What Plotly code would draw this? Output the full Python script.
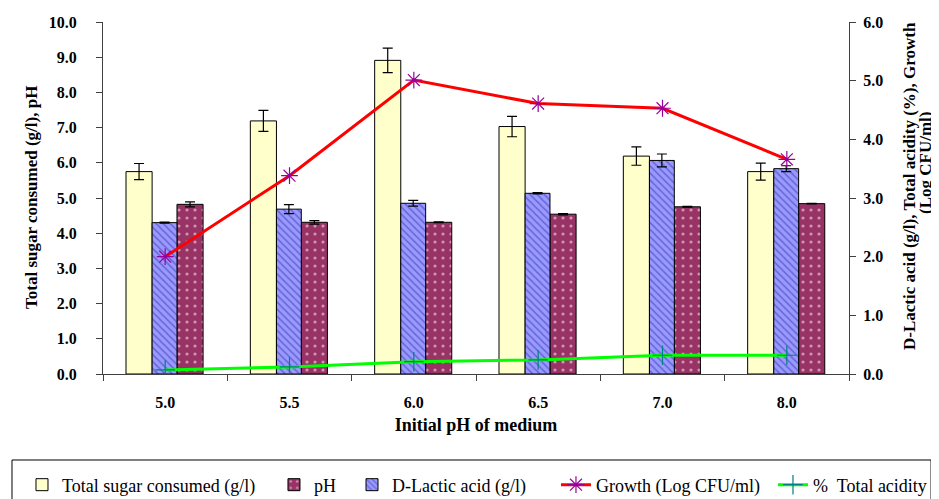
import plotly.graph_objects as go

categories = ["5.0", "5.5", "6.0", "6.5", "7.0", "8.0"]
sugar = [5.75, 7.19, 8.91, 7.03, 6.19, 5.75]
sugar_err = [0.23, 0.30, 0.35, 0.29, 0.26, 0.24]
lactic = [2.58, 2.81, 2.91, 3.08, 3.64, 3.50]
lactic_err = [0.01, 0.077, 0.05, 0.01, 0.11, 0.05]
ph = [4.82, 4.31, 4.31, 4.54, 4.75, 4.84]
ph_err = [0.07, 0.05, 0.01, 0.02, 0.01, 0.01]
growth = [2.00, 3.38, 5.01, 4.61, 4.53, 3.66]
acidity = [0.07, 0.12, 0.21, 0.24, 0.32, 0.32]

FONT = "Liberation Serif"
err_style = dict(type="data", thickness=1.2, width=5, color="#000000")

fig = go.Figure()
fig.add_trace(go.Bar(
    x=categories, y=sugar, name="Total sugar consumed (g/l)", yaxis="y",
    width=0.21, offset=-0.315, legend="legend",
    marker=dict(color="#ffffcc", line=dict(color="#000000", width=1)),
    error_y=dict(array=sugar_err, **err_style)))
fig.add_trace(go.Bar(
    x=categories, y=lactic, name="D-Lactic acid (g/l)", yaxis="y2",
    width=0.2, offset=-0.105, legend="legend3",
    marker=dict(color="#9999ff", line=dict(color="#000000", width=1),
                pattern=dict(shape="\\", fgcolor="#3333aa", size=5, solidity=0.3, fillmode="overlay")),
    error_y=dict(array=lactic_err, **err_style)))
fig.add_trace(go.Bar(
    x=categories, y=ph, name="pH", yaxis="y",
    width=0.21, offset=0.095, legend="legend2",
    marker=dict(color="#993366", line=dict(color="#000000", width=1),
                pattern=dict(shape=".", fgcolor="#ffffff", size=8, solidity=0.12, fillmode="overlay")),
    error_y=dict(array=ph_err, **err_style)))
fig.add_trace(go.Scatter(
    x=categories, y=growth, name="Growth (Log CFU/ml)", yaxis="y2",
    mode="lines+markers", legend="legend4",
    line=dict(color="#ff0000", width=3),
    marker=dict(symbol="asterisk-open", size=14, color="#990099", line=dict(color="#990099", width=1.2))))
fig.add_trace(go.Scatter(
    x=categories, y=acidity, name="%  Total acidity", yaxis="y2",
    mode="lines+markers", legend="legend5",
    line=dict(color="#00ff00", width=3),
    marker=dict(symbol="cross-thin-open", size=14, color="#008080", line=dict(color="#008080", width=1.2))))

LEG_Y = -0.3153
def leg(x):
    return dict(orientation="h", x=x, xanchor="left", y=LEG_Y, yanchor="middle",
                font=dict(family=FONT, size=18), borderwidth=0, bgcolor="rgba(0,0,0,0)",
                itemwidth=30)

fig.update_layout(
    width=931, height=491,
    margin=dict(l=95, r=90, t=14, b=125, autoexpand=False),
    paper_bgcolor="white", plot_bgcolor="white",
    font=dict(family=FONT, color="#000000"),
    barmode="overlay",
    showlegend=True,
    legend=leg(-0.1086), legend2=leg(0.2292), legend3=leg(0.3338),
    legend4=leg(0.6072), legend5=leg(0.8981),
    shapes=[dict(type="rect", xref="paper", yref="paper", x0=-0.122, x1=1.110,
                 y0=-0.2443, y1=-0.40, line=dict(color="#000000", width=1), layer="above")],
    annotations=[
        dict(text="<b>Total sugar consumed (g/l), pH</b>", xref="paper", yref="paper",
             x=-0.0965, y=0.5, textangle=-90, showarrow=False,
             xanchor="center", yanchor="middle", font=dict(family=FONT, size=17)),
        dict(text="<b>D-Lactic acid (g/l), Total acidity (%), Growth</b>", xref="paper", yref="paper",
             x=(901 - 95) / 746, y=0.534, textangle=-90, showarrow=False,
             xanchor="center", yanchor="middle", font=dict(family=FONT, size=17)),
        dict(text="<b>(Log CFU/ml)</b>", xref="paper", yref="paper",
             x=(917 - 95) / 746, y=0.5994, textangle=-90, showarrow=False,
             xanchor="center", yanchor="middle", font=dict(family=FONT, size=17)),
    ],
    xaxis=dict(type="category", showline=True, linecolor="#404040", linewidth=1,
               ticks="outside", tickson="boundaries", ticklen=6, tickcolor="#404040",
               ticklabelstandoff=14,
               tickfont=dict(family=FONT, size=16, color="#000000"),
               title=dict(text="<b>Initial pH of medium</b>", font=dict(family=FONT, size=18), standoff=8),
               tickprefix="<b>", ticksuffix="</b>", showgrid=False, range=[-0.5, 5.5]),
    yaxis=dict(range=[0, 10], dtick=1, tickformat=".1f", showline=True, linecolor="#404040",
               linewidth=1, ticks="outside", ticklen=6, tickcolor="#404040", showgrid=False,
               zeroline=False, tickprefix="<b>", ticksuffix="</b>", ticklabelstandoff=16,
               tickfont=dict(family=FONT, size=16, color="#000000")),
    yaxis2=dict(range=[0, 6], dtick=1, tickformat=".1f", overlaying="y", side="right",
                showline=True, linecolor="#404040", linewidth=1, ticks="outside", ticklen=6,
                tickcolor="#404040", showgrid=False, zeroline=False, ticklabelstandoff=4,
                tickprefix="<b>", ticksuffix="</b>",
                tickfont=dict(family=FONT, size=16, color="#000000")),
)

fig.write_html("out.html")
